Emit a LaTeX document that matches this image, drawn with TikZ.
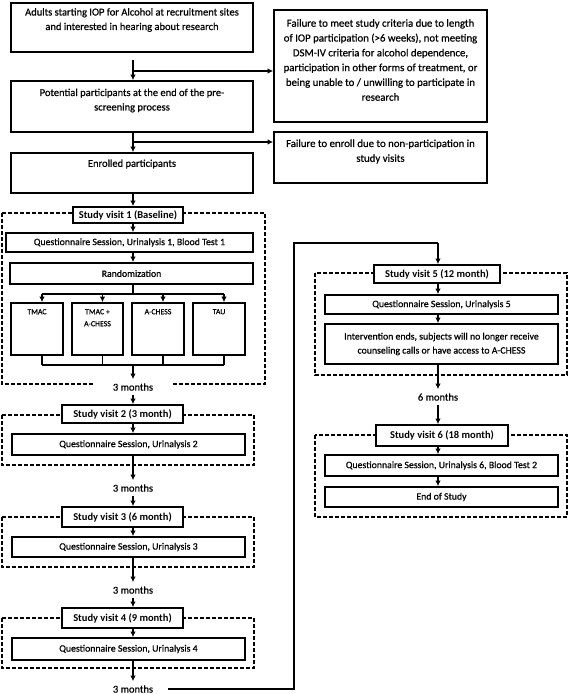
\documentclass[tikz,border=0pt]{standalone}
\usepackage{fontspec}
\setmainfont{Carlito}[UprightFeatures={FakeBold=0.6}]
\usetikzlibrary{arrows.meta}
\newcommand{\fsz}{\fontsize{10.5}{14.5}\selectfont}
\newcommand{\fsq}{\fontsize{9.8}{14}\selectfont}
\newcommand{\fsm}{\fontsize{7.8}{12}\selectfont}
\tikzset{
  box/.style={draw=black, line width=1.7pt, fill=white, inner sep=0pt, align=center, font=\fsq},
  visit/.style={box, font=\fsz\bfseries},
  dbox/.style={draw=black, line width=1.5pt, dash pattern=on 4pt off 2pt},
  txt/.style={inner sep=0pt, align=center, font=\fsz},
  smalltxt/.style={inner sep=0pt, align=center, font=\fsm},
  months/.style={inner sep=4pt, align=center, font=\fsz, fill=white},
  arr/.style={line width=1.5pt, -{Latex[length=5.5pt,width=5.5pt]}},
  ln/.style={line width=1.5pt},
  route/.style={line width=2.6pt}
}
\begin{document}
\begin{tikzpicture}[x=1pt,y=-1pt]
\useasboundingbox (0,0) rectangle (569,694);
\fill[white] (0,0) rectangle (569,694);

% top part
\node[box, minimum width=242, minimum height=49] (A) at (132,27.5) {};
\node[txt] (At) at (132,20) {Adults starting IOP for Alcohol at recruitment sites\\and interested in hearing about research};
\node[box, minimum width=242, minimum height=51] (B) at (132,106.5) {};
\node[txt] (Bt) at (132,100.5) {Potential participants at the end of the pre-\\screening process};
\node[box, minimum width=242, minimum height=40] (C) at (132,173) {};
\node[txt] (Ct) at (132,164) {Enrolled participants};
\node[box, minimum width=213, minimum height=112] (F1) at (380.5,66) {};
\node[txt, font=\fontsize{10.8}{14.8}\selectfont] (F1t) at (380.5,60) {Failure to meet study criteria due to length\\of IOP participation (>6 weeks), not meeting\\DSM-IV criteria for alcohol dependence,\\participation in other forms of treatment, or\\being unable to / unwilling to participate in\\research};
\node[box, minimum width=213, minimum height=51] (F2) at (380.5,157.5) {};
\node[txt, font=\fontsize{10.8}{14.8}\selectfont] (F2t) at (380.5,151.5) {Failure to enroll due to non-participation in\\study visits};

\coordinate (a0) at (133,60);
\coordinate (j1) at (133,71);
\coordinate (j2) at (133,142);
\draw[arr] (a0) -- (a0 |- B.north);
\draw[arr] (j1) -- (j1 -| F1.west);
\draw[arr] (j2 |- B.south) -- (j2 |- C.north);
\draw[arr] (j2) -- (j2 -| F2.west);

% dashed frames
\draw[dbox] (2,213) rectangle (265,384);
\draw[dbox] (2,415) rectangle (254,465);
\draw[dbox] (2,517) rectangle (254,567);
\draw[dbox] (2,618) rectangle (254,668);
\draw[dbox] (315,273) rectangle (567,375);
\draw[dbox] (315,435) rectangle (567,517);

% visit 1
\node[visit, minimum width=110, minimum height=16] (V1) at (128,215) {Study visit 1 (Baseline)};
\node[box, minimum width=247, minimum height=19] (Q1) at (129.5,242.5) {Questionnaire Session, Urinalysis 1, Blood Test 1};
\node[box, minimum width=243, minimum height=21] (R) at (131.5,273.5) {Randomization};
\node[box, minimum width=52, minimum height=52] (T1) at (37,329) {};
\node[box, minimum width=51, minimum height=52] (T2) at (97.5,329) {};
\node[box, minimum width=52, minimum height=52] (T3) at (158,329) {};
\node[box, minimum width=52, minimum height=52] (T4) at (219,329) {};
\node[smalltxt, anchor=north] (T1t) at (37,309) {TMAC};
\node[smalltxt, anchor=north] (T2t) at (97.5,309) {TMAC +\\A-CHESS};
\node[smalltxt, anchor=north] (T3t) at (158,309) {A-CHESS};
\node[smalltxt, anchor=north] (T4t) at (219,309) {TAU};

\draw[arr] (C.south -| a0) -- (a0 |- V1.north);
\draw[arr] (a0 |- V1.south) -- (a0 |- Q1.north);
\draw[arr] (a0 |- Q1.south) -- (a0 |- R.north);
\coordinate (rj) at (133,294);
\draw[ln] (rj |- R.south) -- (rj);
\draw[ln] ([xshift=5pt]T1.north |- rj) -- ([xshift=5pt]T4.north |- rj);
\foreach \t in {T1,T2,T3,T4}{
  \draw[arr] ([xshift=5pt]\t.north |- rj) -- ([xshift=5pt]\t.north);
  \draw[ln] ([xshift=5pt]\t.south) -- ([xshift=5pt,yshift=-9pt]\t.south);
}
\coordinate (bj) at (133,364);
\draw[ln] ([xshift=5pt,yshift=-9pt]T1.south) -- ([xshift=5pt,yshift=-9pt]T4.south);

\node[months, inner xsep=18pt] (m1) at (133,387) {3 months};
\draw[arr] (bj) -- (bj |- m1.north);

% visit 2
\node[visit, minimum width=121, minimum height=18] (V2) at (122.5,414) {Study visit 2 (3 month)};
\node[box, minimum width=233, minimum height=21] (Q2) at (128.5,444.5) {Questionnaire Session, Urinalysis 2};
\draw[arr] (m1.south) -- (m1 |- V2.north);
\draw[arr] (m1 |- V2.south) -- (m1 |- Q2.north);
\node[months] (m2) at (133,488) {3 months};
\draw[arr] (m2 |- Q2.south) -- (m2.north);

% visit 3
\node[visit, minimum width=121, minimum height=20] (V3) at (122.5,517) {Study visit 3 (6 month)};
\node[box, minimum width=233, minimum height=20] (Q3) at (128.5,547) {Questionnaire Session, Urinalysis 3};
\draw[arr] (m2.south) -- (m2 |- V3.north);
\draw[arr] (m2 |- V3.south) -- (m2 |- Q3.north);
\node[months] (m3) at (133,590) {3 months};
\draw[arr] (m3 |- Q3.south) -- (m3.north);

% visit 4
\node[visit, minimum width=121, minimum height=20] (V4) at (122.5,618) {Study visit 4 (9 month)};
\node[box, minimum width=233, minimum height=22] (Q4) at (128.5,649) {Questionnaire Session, Urinalysis 4};
\draw[arr] (m3.south) -- (m3 |- V4.north);
\draw[arr] (m3 |- V4.south) -- (m3 |- Q4.north);
\node[months] (m4) at (133,689) {3 months};
\draw[arr] (m4 |- Q4.south) -- (m4.north);

% right column
\node[visit, minimum width=126, minimum height=18] (V5) at (437,274) {Study visit 5 (12 month)};
\node[box, minimum width=233, minimum height=19] (Q5) at (441.5,304.5) {Questionnaire Session, Urinalysis 5};
\node[box, minimum width=233, minimum height=40] (I) at (441.5,344) {Intervention ends, subjects will no longer receive\\counseling calls or have access to A-CHESS};
\node[months] (m5) at (438,397) {6 months};
\node[visit, minimum width=132, minimum height=21] (V6) at (442,435.5) {Study visit 6 (18 month)};
\node[box, minimum width=233, minimum height=21] (Q6) at (441.5,465.5) {Questionnaire Session, Urinalysis 6, Blood Test 2};
\node[box, minimum width=233, minimum height=20] (E) at (441.5,497) {End of Study};

\coordinate (r1) at (294,243);
\draw[route] ([xshift=11pt]m4.east) -| (r1) -- (r1 -| m5);
\draw[arr] (r1 -| m5) -- (m5 |- V5.north);
\draw[arr] (m5 |- V5.south) -- (m5 |- Q5.north);
\draw[arr] (m5 |- Q5.south) -- (m5 |- I.north);
\draw[arr] (m5 |- I.south) -- (m5.north);
\draw[arr] (m5.south) -- (m5 |- V6.north);
\draw[arr] (m5 |- V6.south) -- (m5 |- Q6.north);
\draw[arr] (m5 |- Q6.south) -- (m5 |- E.north);
\end{tikzpicture}
\end{document}
